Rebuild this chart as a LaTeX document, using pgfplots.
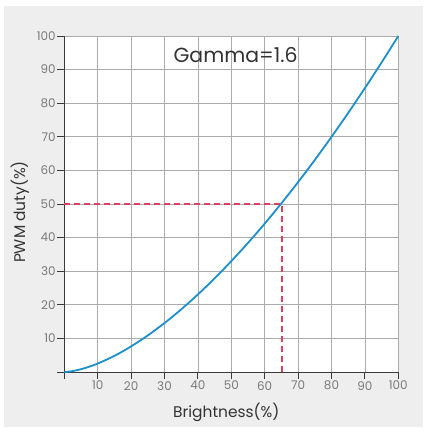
\documentclass[border=0pt]{standalone}
\usepackage{pgfplots}
\pgfplotsset{compat=1.18}
\usepackage{fontspec}
\setmainfont{Poppins}
\definecolor{bgg}{HTML}{EEEEEE}
\definecolor{gridc}{HTML}{ABABAB}
\definecolor{axc}{HTML}{3A3A3A}
\definecolor{tickc}{HTML}{7A7A7A}
\definecolor{txtc}{HTML}{333333}
\definecolor{curve}{HTML}{1C8FCC}
\definecolor{dashred}{HTML}{E0405F}
\begin{document}
\begin{tikzpicture}[x=1bp,y=1bp]
\path[fill=white] (0,0) rectangle (428,432);
\fill[bgg] (4,5) rectangle (423,426);
\begin{axis}[
  at={(64.3bp,60bp)}, anchor=south west,
  scale only axis, width=334bp, height=336bp,
  xmin=0, xmax=100, ymin=0, ymax=100,
  axis lines=left, axis line style={-, color=axc, line width=0.9bp},
  axis background/.style={fill=white},
  xtick={0,10,...,100}, ytick={0,10,...,100},
  xticklabels={,10,20,30,40,50,60,70,80,90,100},
  yticklabels={,10,20,30,40,50,60,70,80,90,100},
  /pgf/number format/assume math mode=true,
  tick align=outside, major tick length=7bp,
  tick style={color=axc, line width=0.9bp},
  grid=major, grid style={color=gridc, line width=0.8bp},
  ticklabel style={font=\fontsize{12}{12}\selectfont, text=tickc},
  xticklabel style={inner sep=2bp},
  yticklabel style={inner sep=1.5bp},
  every axis x label/.style={at={(axis description cs:0.5,0)}, anchor=center, yshift=-40bp, xshift=-5bp, font=\fontsize{15.5}{16}\selectfont, text=txtc},
  every axis y label/.style={at={(axis description cs:-0.1326,0.476)}, rotate=90, anchor=center, font=\fontsize{15.5}{16}\selectfont, text=txtc},
  xlabel={Brightness(\%)},
  ylabel={PWM duty(\%)},
  clip=false,
]
\addplot[draw=dashred, line width=1.3bp, dash pattern=on 6bp off 4bp] coordinates {(0,50) (65,50)};
\addplot[draw=dashred, line width=1.9bp, dash pattern=on 6bp off 4bp] coordinates {(65.1,0) (65.1,50)};
\addplot[curve, line width=1.8bp, smooth] coordinates {
(0,0) (1,0.063) (2.5,0.27) (5,0.83) (7.5,1.59) (10,2.51) (15,4.80) (20,7.62) (25,10.88)
(30,14.57) (35,18.64) (40,23.08) (45,27.87) (50,32.99) (55,38.42) (60,44.16)
(65,50.20) (70,56.52) (75,63.11) (80,69.98) (85,77.11) (90,84.49) (95,92.12) (100,100)
};
\node[font=\fontsize{20.5}{21}\selectfont, text=txtc] at (axis description cs:0.513,0.943) {Gamma=1.6};
\end{axis}
\end{tikzpicture}
\end{document}
